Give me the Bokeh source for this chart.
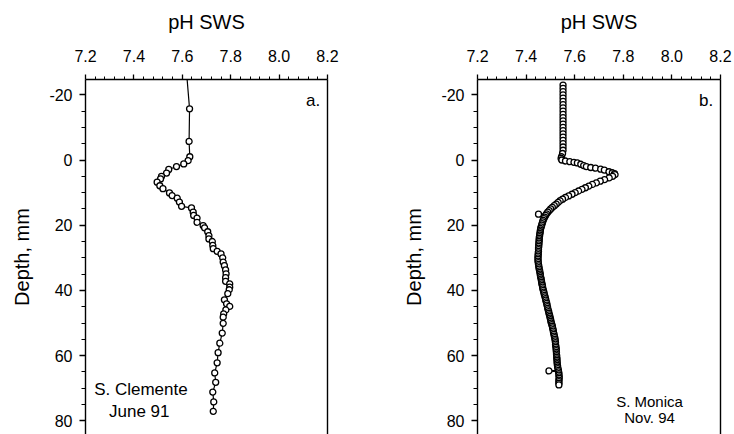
from bokeh.plotting import figure
from bokeh.layouts import row
from bokeh.models import Range1d, LinearAxis, FixedTicker, PrintfTickFormatter, Label
from bokeh.embed import file_html
from bokeh.resources import INLINE

FONT = "Liberation Sans"

# ---- tick positions / labels ----
ph_ticks = [7.2, 7.4, 7.6, 7.8, 8.0, 8.2]
ph_minor = [7.24, 7.28, 7.32, 7.36, 7.44, 7.48, 7.52, 7.56, 7.64, 7.68, 7.72, 7.76,
            7.84, 7.88, 7.92, 7.96, 8.04, 8.08, 8.12, 8.16]
depth_ticks = [-20, 0, 20, 40, 60, 80]
depth_minor = [-25, -15, -10, -5, 5, 10, 15, 25, 30, 35, 45, 50, 55, 65, 70, 75, 85]

# ---- panel a: S. Clemente, June 91 ----
depth_a = [-30.0, -15.7, -5.7, -1.0, 0.2, 1.2, 2.0, 2.9, 4.0, 5.0, 5.8, 6.8, 7.9, 8.8, 10.1,
           10.9, 11.7, 12.9, 14.2, 14.7, 16.0, 17.0, 17.8, 19.1, 20.1, 20.8, 22.0, 23.2, 24.2,
           25.0, 26.2, 27.2, 28.0, 28.8, 30.0, 31.3, 32.4, 33.7, 34.9, 36.1, 37.2, 38.0, 39.0,
           39.8, 41.0, 42.9, 44.1, 44.9, 46.0, 47.2, 48.2, 50.1, 53.1, 56.2, 59.1, 62.2, 65.3,
           68.2, 71.2, 74.2, 77.1]
ph_a = [7.614, 7.630, 7.628, 7.631, 7.624, 7.606, 7.576, 7.544, 7.535, 7.514, 7.510, 7.496,
        7.507, 7.520, 7.547, 7.558, 7.579, 7.588, 7.597, 7.638, 7.645, 7.647, 7.661, 7.661,
        7.686, 7.692, 7.705, 7.710, 7.710, 7.724, 7.726, 7.728, 7.744, 7.760, 7.767, 7.769,
        7.774, 7.779, 7.781, 7.779, 7.779, 7.796, 7.796, 7.794, 7.788, 7.774, 7.783, 7.796,
        7.780, 7.771, 7.769, 7.769, 7.765, 7.755, 7.748, 7.744, 7.734, 7.738, 7.726, 7.730,
        7.728]

# ---- panel b: S. Monica, Nov. 94 ----
depth_b = [-23, -22, -21, -20, -19, -18, -17, -16, -15, -14, -13, -12, -11, -10, -9, -8, -7,
           -6, -5, -4, -3, -2.0, -1.0, -0.5, 0.0, 0.3, 0.5, 0.7, 0.9, 1.3, 1.7, 2.0, 2.3, 2.5,
           2.8, 3.1, 3.6, 3.9, 4.2, 4.5, 5.0, 5.5, 6.0, 6.5, 7.0, 7.5, 8.0, 8.5, 9.0, 9.5, 10.0,
           10.5, 11.0, 11.5, 12.0, 12.5, 13.0, 13.5, 14.0, 14.5, 15.0, 15.5, 16.0, 16.5, 16.6,
           17.0, 17.5, 18.0, 18.5, 19.0, 19.5, 20.0, 20.5, 21.0, 21.5, 22.0, 22.5, 23.0, 23.5,
           24.0, 24.5, 25.0, 25.5, 26.0, 26.5, 27.0, 27.5, 28.0, 28.5, 29.0, 29.5, 30.0, 30.5,
           31.0, 31.5, 32.0, 32.5, 33.0, 33.5, 34.0, 34.5, 35.0, 35.5, 36.0, 36.5, 37.0, 37.5,
           38.0, 38.5, 39.0, 39.5, 40.0, 40.5, 41.0, 41.5, 42.0, 42.5, 43.0, 43.5, 44.0, 44.5,
           45.0, 45.5, 46.0, 46.5, 47.0, 47.5, 48.0, 48.5, 49.0, 49.5, 50.0, 50.5, 51.0, 51.5,
           52.0, 52.5, 53.0, 53.5, 54.0, 54.5, 55.0, 55.5, 56.0, 56.5, 57.0, 57.5, 58.0, 58.5,
           59.0, 59.5, 60.0, 60.5, 61.0, 61.5, 62.0, 62.5, 63.0, 63.5, 64.0, 64.5, 64.7, 65.0,
           65.5, 66.0, 66.5, 67.0, 67.5, 68.0, 68.5, 69.0]
ph_b = [7.552, 7.552, 7.552, 7.552, 7.552, 7.552, 7.552, 7.552, 7.552, 7.552, 7.552, 7.552,
        7.552, 7.552, 7.552, 7.552, 7.552, 7.552, 7.552, 7.552, 7.552, 7.550, 7.546, 7.544,
        7.547, 7.562, 7.580, 7.597, 7.611, 7.625, 7.637, 7.648, 7.666, 7.686, 7.707, 7.722,
        7.741, 7.755, 7.764, 7.766, 7.756, 7.742, 7.723, 7.705, 7.689, 7.673, 7.658, 7.644,
        7.630, 7.616, 7.602, 7.589, 7.575, 7.562, 7.550, 7.540, 7.532, 7.524, 7.516, 7.508,
        7.501, 7.495, 7.489, 7.484, 7.451, 7.480, 7.476, 7.473, 7.470, 7.468, 7.466, 7.464,
        7.462, 7.460, 7.459, 7.458, 7.457, 7.456, 7.455, 7.454, 7.454, 7.453, 7.453, 7.452,
        7.452, 7.451, 7.451, 7.451, 7.450, 7.450, 7.449, 7.449, 7.449, 7.449, 7.450, 7.451,
        7.452, 7.453, 7.454, 7.456, 7.457, 7.458, 7.459, 7.460, 7.462, 7.463, 7.464, 7.465,
        7.467, 7.468, 7.469, 7.471, 7.473, 7.474, 7.476, 7.478, 7.480, 7.481, 7.483, 7.485,
        7.486, 7.488, 7.489, 7.491, 7.493, 7.494, 7.496, 7.498, 7.499, 7.501, 7.502, 7.504,
        7.506, 7.508, 7.509, 7.511, 7.512, 7.513, 7.515, 7.516, 7.518, 7.519, 7.520, 7.521,
        7.521, 7.522, 7.523, 7.524, 7.524, 7.525, 7.525, 7.526, 7.526, 7.527, 7.527, 7.528,
        7.528, 7.529, 7.530, 7.531, 7.533, 7.494, 7.534, 7.535, 7.535, 7.536, 7.536, 7.535,
        7.535, 7.535, 7.535]


def make_panel(ph, depth, width, border_left, border_right, letter, site_lines, site_pos,
               site_size):
    p = figure(width=width, height=434,
               x_range=Range1d(7.1999, 8.2001), y_range=Range1d(84.2, -24.7),
               x_axis_location="above", output_backend="svg", toolbar_location=None,
               min_border_left=border_left, min_border_right=border_right,
               min_border_top=79, min_border_bottom=0)
    p.outline_line_color = None
    p.xgrid.visible = False
    p.ygrid.visible = False
    p.background_fill_color = "white"
    p.border_fill_color = "white"

    xa = p.xaxis[0]
    xa.ticker = FixedTicker(ticks=ph_ticks, minor_ticks=ph_minor)
    xa.formatter = PrintfTickFormatter(format="%.1f")
    xa.axis_label = "pH SWS"
    xa.axis_label_text_font = FONT
    xa.axis_label_text_font_size = "20px"
    xa.axis_label_text_font_style = "normal"
    xa.axis_label_text_color = "black"
    xa.axis_label_standoff = 14
    xa.major_label_text_font = FONT
    xa.major_label_text_font_size = "16px"
    xa.major_label_text_color = "black"
    xa.major_label_standoff = 13
    xa.major_tick_out = 5
    xa.major_tick_in = 0
    xa.minor_tick_out = 3
    xa.minor_tick_in = 0
    xa.axis_line_width = 1.4
    xa.major_tick_line_width = 1.3
    xa.minor_tick_line_width = 1

    ya = p.yaxis[0]
    ya.ticker = FixedTicker(ticks=depth_ticks, minor_ticks=depth_minor)
    ya.formatter = PrintfTickFormatter(format="%d")
    ya.axis_label = "Depth, mm"
    ya.axis_label_text_font = FONT
    ya.axis_label_text_font_size = "20px"
    ya.axis_label_text_font_style = "normal"
    ya.axis_label_text_color = "black"
    ya.axis_label_standoff = 13
    ya.major_label_text_font = FONT
    ya.major_label_text_font_size = "16px"
    ya.major_label_text_color = "black"
    ya.major_label_standoff = 7
    ya.major_tick_out = 6
    ya.major_tick_in = 0
    ya.minor_tick_out = 4
    ya.minor_tick_in = 0
    ya.axis_line_width = 1.4
    ya.major_tick_line_width = 1.3

    ra = LinearAxis(ticker=FixedTicker(ticks=[]), major_label_text_font_size="0px",
                    major_tick_out=0, minor_tick_out=0, axis_line_width=1.4)
    p.add_layout(ra, "right")

    p.line(ph, depth, line_color="black", line_width=1.2)
    p.scatter(ph, depth, marker="circle", size=6, fill_color="white",
              line_color="black", line_width=1.3)

    p.add_layout(Label(x=8.17, y=-18.3, text=letter, text_align="right",
                       text_baseline="alphabetic", text_font=FONT,
                       text_color="black", text_font_size="17px"))
    for txt, (lx, ly) in zip(site_lines, site_pos):
        p.add_layout(Label(x=lx, y=ly, text=txt, text_align="center",
                           text_baseline="alphabetic", text_font=FONT,
                           text_color="black", text_font_size=site_size))
    return p


pa = make_panel(ph_a, depth_a, 367, 85, 40, "a.",
                ["S. Clemente", "June 91"], [(7.429, 70.4), (7.422, 77.1)], "17px")
pb = make_panel(ph_b, depth_b, 367, 110, 14, "b.",
                ["S. Monica", "Nov. 94"], [(7.908, 74.0), (7.908, 78.9)], "15px")

layout = row(pa, pb, spacing=0)
open("out.html", "w").write(file_html(layout, INLINE))
